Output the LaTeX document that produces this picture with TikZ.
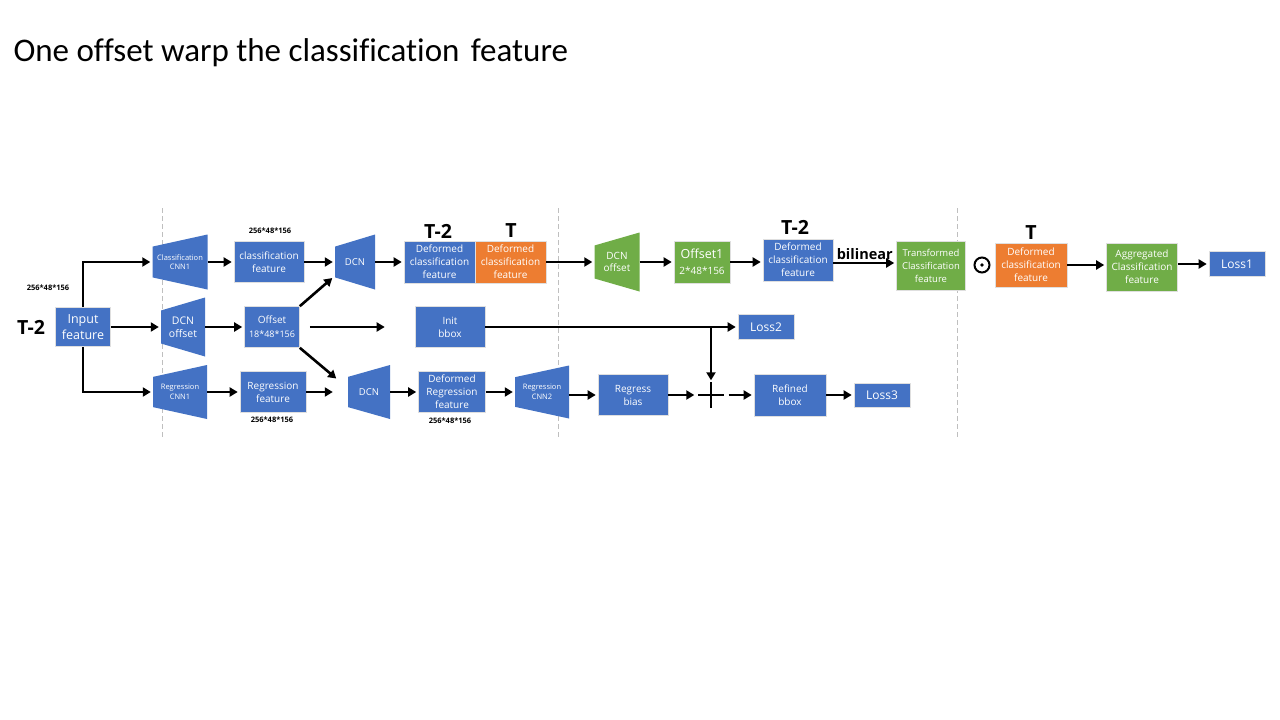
\documentclass[tikz,border=0pt]{standalone}
\usepackage{fontspec}
\setmainfont{Open Sans}[Ligatures=CommonOff]
\newfontfamily\titlefont{Carlito}[Ligatures=CommonOff]
\usepackage{tikz}
\usetikzlibrary{arrows.meta, positioning, calc}
\definecolor{offblue}{HTML}{4472C4}
\definecolor{offorange}{HTML}{ED7D31}
\definecolor{offgreen}{HTML}{70AD47}
\definecolor{sepgray}{HTML}{BFBFBF}

\tikzset{
  blk/.style={rectangle, draw=white!75!gray, line width=0.6pt, text=white, align=center, inner sep=0pt, font=\fontsize{10}{13}\selectfont},
  bluebox/.style={blk, fill=offblue},
  orangebox/.style={blk, fill=offorange},
  greenbox/.style={blk, fill=offgreen},
  trap/.style={rectangle, inner sep=0pt, text=white, align=center, font=\fontsize{9.5}{12}\selectfont,
    path picture={\fill[#1] ($(path picture bounding box.north west)!0.22!(path picture bounding box.south west)$)
      -- (path picture bounding box.north east) -- (path picture bounding box.south east)
      -- ($(path picture bounding box.north west)!0.78!(path picture bounding box.south west)$) -- cycle;}},
  arr/.style={-{Triangle[length=8pt,width=9pt]}, line width=2.6pt, shorten >=2pt},
  dimtext/.style={font=\fontsize{7.5}{8}\selectfont\bfseries},
  steptext/.style={font=\fontsize{19.5}{21}\selectfont\bfseries},
  sepline/.style={sepgray, line width=0.8pt, dash pattern=on 5pt off 3pt}
}

\begin{document}
\begin{tikzpicture}[x=1pt, y=-1pt]
    \fill[white] (0,0) rectangle (1280,720);
    \useasboundingbox (0,0) rectangle (1280,720);

    \node[anchor=base west, font=\titlefont\fontsize{33}{36}\selectfont] (title) at (10,61) {One offset warp the classification\hspace{4pt} feature};

    % separators
    \draw[sepline] (162,208) -- (162,438);
    \draw[sepline] (558,208) -- (558,438);
    \draw[sepline] (957,208) -- (957,438);

    % Input
    \node[bluebox, minimum width=55pt, minimum height=39pt, font=\fontsize{12.5}{16}\selectfont] (input) at (83,327) {Input\\feature};
    \node[steptext] (t2in) at (31,327) {T-2};
    \node[dimtext] (dimin) at (48,288) {256*48*156};

    % Column 1
    \node[trap=offblue, minimum width=55pt, minimum height=55pt, font=\fontsize{7.5}{9.5}\selectfont] (clscnn) at (180,262) {Classification\\CNN1};
    \node[trap=offblue, minimum width=44pt, minimum height=59pt, font=\fontsize{10.5}{13}\selectfont] (dcnoff) at (183,327) {DCN\\offset};
    \node[trap=offblue, minimum width=54pt, minimum height=54pt, font=\fontsize{7.5}{9.5}\selectfont] (regcnn) at (180,392) {Regression\\CNN1};

    \node[bluebox, minimum width=70pt, minimum height=41pt] (clsfeat) at (269,262) {classification\\feature};
    \node[dimtext] (dimcls) at (270,231) {256*48*156};
    \node[bluebox, minimum width=55pt, minimum height=41pt, font=\fontsize{10}{14}\selectfont] (offset) at (272,327) {Offset\\{\fontsize{9}{11}\selectfont 18*48*156}};
    \node[bluebox, minimum width=66pt, minimum height=41pt] (regfeat) at (273,392) {Regression\\feature};
    \node[dimtext] (dimreg) at (272,420) {256*48*156};

    % Column 2
    \node[trap=offblue, minimum width=40pt, minimum height=55pt] (dcncls) at (355,262) {DCN};
    \node[trap=offblue, minimum width=42pt, minimum height=54pt] (dcnreg) at (369,392) {DCN};

    \node[bluebox, minimum width=71pt, minimum height=42pt] (defcls) at (439.5,262) {Deformed\\classification\\feature};
    \node[orangebox, minimum width=71pt, minimum height=42pt] (defclst) at (510.5,262) {Deformed\\classification\\feature};
    \node[steptext] (t2a) at (438,231) {T-2};
    \node[steptext] (ta) at (511,231) {T};
    \node[bluebox, minimum width=70pt, minimum height=41pt] (initbox) at (450,327) {Init\\bbox};
    \node[bluebox, minimum width=67pt, minimum height=41pt] (defreg) at (452,392) {Deformed\\Regression\\feature};
    \node[dimtext] (dimdef) at (450,421) {256*48*156};
    \node[trap=offblue, minimum width=54pt, minimum height=53pt, font=\fontsize{7.5}{9.5}\selectfont] (regcnn2) at (542,392) {Regression\\CNN2};

    % Column 3
    \node[trap=offgreen, minimum width=45pt, minimum height=59pt, font=\fontsize{10}{12.5}\selectfont] (dcnoff2) at (617,262) {DCN\\offset};
    \node[greenbox, minimum width=56pt, minimum height=42pt, font=\fontsize{10}{16}\selectfont] (offone) at (702,262) {{\fontsize{12.5}{15}\selectfont Offset1}\\2*48*156};
    \node[bluebox, minimum width=70pt, minimum height=42pt] (defcls2) at (798,260) {Deformed\\classification\\feature};
    \node[steptext] (t2b) at (795,227) {T-2};
    \node[greenbox, minimum width=69pt, minimum height=49pt, font=\fontsize{9.5}{13}\selectfont] (transcls) at (931,266) {Transformed\\Classification\\feature};
    \node[bluebox, minimum width=56pt, minimum height=25pt, font=\fontsize{12}{14}\selectfont] (loss2) at (766,327) {Loss2};
    \node[bluebox, minimum width=70pt, minimum height=41pt] (regbias) at (633,395) {Regress\\bias};
    \node[minimum size=25pt, inner sep=0pt] (plus) at (711,395) {};
    \draw[line width=2.2pt] (plus.north) -- (plus.south) (plus.west) -- (plus.east);
    \node[bluebox, minimum width=72pt, minimum height=42pt] (refined) at (790,395) {Refined\\bbox};
    \node[bluebox, minimum width=56pt, minimum height=24pt, font=\fontsize{12}{14}\selectfont] (loss3) at (882,395) {Loss3};

    % Column 4
    \node[circle, draw, line width=2pt, minimum size=15pt, inner sep=0pt] (odot) at (982,265) {};
    \fill (odot.center) circle (1.8pt);
    \node[orangebox, minimum width=72pt, minimum height=44pt] (defclst2) at (1031,265) {Deformed\\classification\\feature};
    \node[steptext] (tb) at (1031,233) {T};
    \node[greenbox, minimum width=71pt, minimum height=48pt] (aggcls) at (1142,267) {Aggregated\\Classification\\feature};
    \node[bluebox, minimum width=56pt, minimum height=25pt, font=\fontsize{12}{14}\selectfont] (loss1) at (1237,264) {Loss1};

    % arrows
    \draw[arr] (input.north) |- (clscnn.west);
    \draw[arr] (input) -- (dcnoff);
    \draw[arr] (input.south) |- (regcnn.west);
    \draw[arr] (clscnn) -- (clsfeat);
    \draw[arr] (dcnoff) -- (offset);
    \draw[arr] (regcnn) -- (regfeat);
    \draw[arr] (clsfeat) -- (dcncls);
    \draw[arr] (offset.north east) -- ([xshift=-1pt, yshift=13pt]dcncls.south west);
    \draw[arr, shorten <=10pt, shorten >=30pt] (offset) -- (initbox);
    \draw[arr] (offset.south east) -- ([xshift=-10pt, yshift=-15pt]dcnreg.north west);
    \draw[arr, shorten >=15pt] (regfeat) -- (dcnreg);
    \draw[arr] (dcncls) -- (defcls);
    \draw[arr] (dcnreg) -- (defreg);
    \draw[arr] (defreg) -- (regcnn2);
    \draw[arr] (regcnn2.east |- regbias) -- (regbias);
    \draw[arr, shorten >=4pt] (regbias) -- (plus);
    \draw[arr, shorten <=5pt] (plus) -- (refined);
    \draw[arr] (refined) -- (loss3);
    \draw[arr] (initbox) -- (loss2);
    \draw[arr] (initbox -| plus) -- (plus);

    \draw[arr] (defclst) -- (dcnoff2);
    \draw[arr] (dcnoff2) -- (offone);
    \draw[arr] (offone) -- (offone -| defcls2.west);
    \draw[arr] ([yshift=-3pt]defcls2.east) coordinate (bl) -- (bl -| transcls.west)
        node[midway, anchor=south, inner sep=1pt, yshift=1pt, font=\fontsize{14.5}{16}\selectfont\bfseries] (bilab) {bilinear};
    \draw[arr] (defclst2) -- (defclst2 -| aggcls.west);
    \draw[arr] (aggcls.east |- loss1) -- (loss1);
\end{tikzpicture}
\end{document}
